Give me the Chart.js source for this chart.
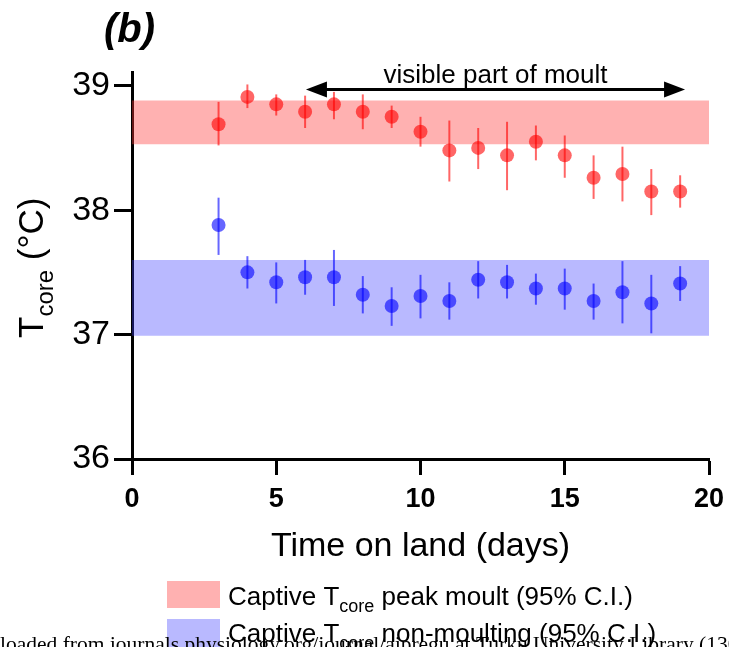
<!DOCTYPE html>
<html>
<head>
<meta charset="utf-8">
<script src="https://cdn.jsdelivr.net/npm/chart.js@4/dist/chart.umd.min.js"></script>
<style>
  body { margin: 0; background: #fff; }
  canvas { display: block; }
</style>
</head>
<body>
<canvas id="chart" width="729" height="647"></canvas>
<script>
// Days on land
const days = [3, 4, 5, 6, 7, 8, 9, 10, 11, 12, 13, 14, 15, 16, 17, 18, 19];

// Wild seals during moult (red)
const redMean = [38.69, 38.91, 38.85, 38.79, 38.85, 38.79, 38.75, 38.63, 38.48, 38.50, 38.44, 38.55, 38.44, 38.26, 38.29, 38.15, 38.15];
const redLow  = [38.52, 38.82, 38.76, 38.66, 38.73, 38.65, 38.66, 38.51, 38.23, 38.33, 38.16, 38.40, 38.26, 38.09, 38.07, 37.96, 38.02];
const redHigh = [38.87, 39.01, 38.93, 38.92, 38.95, 38.93, 38.84, 38.75, 38.72, 38.66, 38.71, 38.68, 38.60, 38.44, 38.51, 38.33, 38.28];

// Wild seals not moulting (blue)
const blueMean = [37.88, 37.50, 37.42, 37.46, 37.46, 37.32, 37.23, 37.31, 37.27, 37.44, 37.42, 37.37, 37.37, 37.27, 37.34, 37.25, 37.41];
const blueLow  = [37.64, 37.37, 37.25, 37.32, 37.23, 37.17, 37.07, 37.13, 37.12, 37.29, 37.29, 37.24, 37.20, 37.12, 37.09, 37.01, 37.27];
const blueHigh = [38.10, 37.63, 37.58, 37.60, 37.68, 37.47, 37.38, 37.48, 37.42, 37.59, 37.56, 37.49, 37.53, 37.41, 37.59, 37.48, 37.55];

// Captive 95% C.I. bands [low, high]
const redBand = [38.53, 38.88];
const blueBand = [36.99, 37.60];
const bandDays = [0, 20];

// Axis ticks
const yTicks = [36, 37, 38, 39];
const xTicks = [0, 5, 10, 15, 20];

// "visible part of moult" arrow (days) and its height
const moultSpan = [6.03, 19.17];
const moultArrowY = 38.97;

const SANS = "'Liberation Sans', Arial, Helvetica, sans-serif";
const redPoint = 'rgba(255, 0, 0, 0.6)';
const bluePoint = 'rgba(0, 0, 255, 0.6)';
const redFill = 'rgba(255, 60, 60, 0.4)';
const blueFill = 'rgba(60, 60, 255, 0.36)';

function toPoints(xs, ys) {
    return xs.map((x, i) => ({ x: x, y: ys[i] }));
}

// Draws text with a subscript part
function drawSubText(ctx, parts, x, y) {
    parts.forEach(p => {
        ctx.font = p.font;
        ctx.fillText(p.text, x, y + (p.dy || 0));
        x += ctx.measureText(p.text).width;
    });
    return x;
}

const errorBars = {
    id: 'errorBars',
    afterDatasetsDraw(chart) {
        const ctx = chart.ctx;
        const xs = chart.scales.x, ys = chart.scales.y;
        const sets = [
            { low: redLow, high: redHigh, color: redPoint },
            { low: blueLow, high: blueHigh, color: bluePoint }
        ];
        ctx.save();
        ctx.lineWidth = 2;
        sets.forEach(s => {
            ctx.strokeStyle = s.color;
            days.forEach((d, i) => {
                const px = xs.getPixelForValue(d);
                ctx.beginPath();
                ctx.moveTo(px, ys.getPixelForValue(s.low[i]));
                ctx.lineTo(px, ys.getPixelForValue(s.high[i]));
                ctx.stroke();
            });
        });
        ctx.restore();
    }
};

const annotations = {
    id: 'annotations',
    afterDraw(chart) {
        const ctx = chart.ctx;
        const xs = chart.scales.x, ys = chart.scales.y;
        ctx.save();
        ctx.fillStyle = '#000';
        ctx.strokeStyle = '#000';

        // panel label
        ctx.font = 'italic bold 40px ' + SANS;
        ctx.textAlign = 'left';
        ctx.textBaseline = 'alphabetic';
        ctx.fillText('(b)', 104, 42);

        // moult arrow
        const x1 = xs.getPixelForValue(moultSpan[0]);
        const x2 = xs.getPixelForValue(moultSpan[1]);
        const ay = ys.getPixelForValue(moultArrowY);
        ctx.lineWidth = 3;
        ctx.beginPath();
        ctx.moveTo(x1 + 10, ay);
        ctx.lineTo(x2 - 10, ay);
        ctx.stroke();
        ctx.beginPath();
        ctx.moveTo(x1, ay);
        ctx.lineTo(x1 + 21, ay - 8);
        ctx.lineTo(x1 + 21, ay + 8);
        ctx.closePath();
        ctx.fill();
        ctx.beginPath();
        ctx.moveTo(x2, ay);
        ctx.lineTo(x2 - 21, ay - 8);
        ctx.lineTo(x2 - 21, ay + 8);
        ctx.closePath();
        ctx.fill();
        ctx.font = '26px ' + SANS;
        ctx.textAlign = 'center';
        ctx.fillText('visible part of moult', (x1 + x2) / 2, ay - 6);

        // y axis title
        ctx.save();
        ctx.translate(43, 263);
        ctx.rotate(-Math.PI / 2);
        ctx.textAlign = 'left';
        drawSubText(ctx, [
            { text: 'T', font: '35px ' + SANS },
            { text: 'core', font: '24px ' + SANS, dy: 10 },
            { text: ' (°C)', font: '35px ' + SANS }
        ], -75, 0);
        ctx.restore();

        // x axis title
        ctx.font = '34px ' + SANS;
        ctx.textAlign = 'center';
        ctx.fillText('Time on land (days)', (chart.chartArea.left + chart.chartArea.right) / 2, 556);

        // legend
        ctx.fillStyle = redFill;
        ctx.fillRect(167, 581, 53, 27);
        ctx.fillStyle = blueFill;
        ctx.fillRect(167, 619, 53, 28);
        ctx.fillStyle = '#000';
        ctx.textAlign = 'left';
        drawSubText(ctx, [
            { text: 'Captive T', font: '26px ' + SANS },
            { text: 'core', font: '18px ' + SANS, dy: 7 },
            { text: ' peak moult (95% C.I.)', font: '26px ' + SANS }
        ], 228, 605);
        drawSubText(ctx, [
            { text: 'Captive T', font: '26px ' + SANS },
            { text: 'core', font: '18px ' + SANS, dy: 7 },
            { text: ' non-moulting (95% C.I.)', font: '26px ' + SANS }
        ], 228, 642);

        // download stamp overlapping the bottom of the figure
        ctx.font = "21.5px 'Liberation Serif', 'Times New Roman', serif";
        ctx.fillText('loaded from journals.physiology.org/journal/ajpregu at Turku University Library (130', 0, 651);
        ctx.restore();
    }
};

new Chart(document.getElementById('chart'), {
    type: 'scatter',
    data: {
        datasets: [
            {
                label: 'Moulting',
                data: toPoints(days, redMean),
                backgroundColor: redPoint,
                borderWidth: 0,
                pointRadius: 7,
                order: 1
            },
            {
                label: 'Non-moulting',
                data: toPoints(days, blueMean),
                backgroundColor: bluePoint,
                borderWidth: 0,
                pointRadius: 7,
                order: 1
            },
            {
                type: 'line',
                label: 'Captive peak moult',
                data: toPoints(bandDays, [redBand[1], redBand[1]]),
                fill: { value: redBand[0] },
                backgroundColor: redFill,
                borderWidth: 0,
                pointRadius: 0,
                order: 2
            },
            {
                type: 'line',
                label: 'Captive non-moulting',
                data: toPoints(bandDays, [blueBand[1], blueBand[1]]),
                fill: { value: blueBand[0] },
                backgroundColor: blueFill,
                borderWidth: 0,
                pointRadius: 0,
                order: 2
            }
        ]
    },
    options: {
        responsive: false,
        animation: false,
        devicePixelRatio: 1,
        layout: { padding: { left: 0, right: 20, top: 72, bottom: 0 } },
        plugins: {
            legend: { display: false },
            tooltip: { enabled: false }
        },
        scales: {
            x: {
                type: 'linear',
                min: 0,
                max: 20,
                afterBuildTicks: s => { s.ticks = xTicks.map(v => ({ value: v })); },
                afterFit: s => {
                    s.height = 188;
                    s.paddingLeft = 0;
                    s.paddingRight = 0;
                },
                grid: { drawOnChartArea: false, tickLength: 16, tickWidth: 3, tickColor: '#000' },
                border: { color: '#000', width: 3 },
                ticks: {
                    color: '#000',
                    padding: 8,
                    maxRotation: 0,
                    font: { family: SANS, size: 27, weight: 'bold' }
                }
            },
            y: {
                type: 'linear',
                min: 36,
                max: 39.11,
                afterBuildTicks: s => { s.ticks = yTicks.map(v => ({ value: v })); },
                afterFit: s => {
                    s.width = 132;
                    s.paddingTop = 0;
                    s.paddingBottom = 0;
                },
                grid: { drawOnChartArea: false, tickLength: 18, tickWidth: 3, tickColor: '#000' },
                border: { color: '#000', width: 3 },
                ticks: {
                    color: '#000',
                    padding: 4,
                    font: { family: SANS, size: 34 }
                }
            }
        }
    },
    plugins: [errorBars, annotations]
});
</script>
</body>
</html>
